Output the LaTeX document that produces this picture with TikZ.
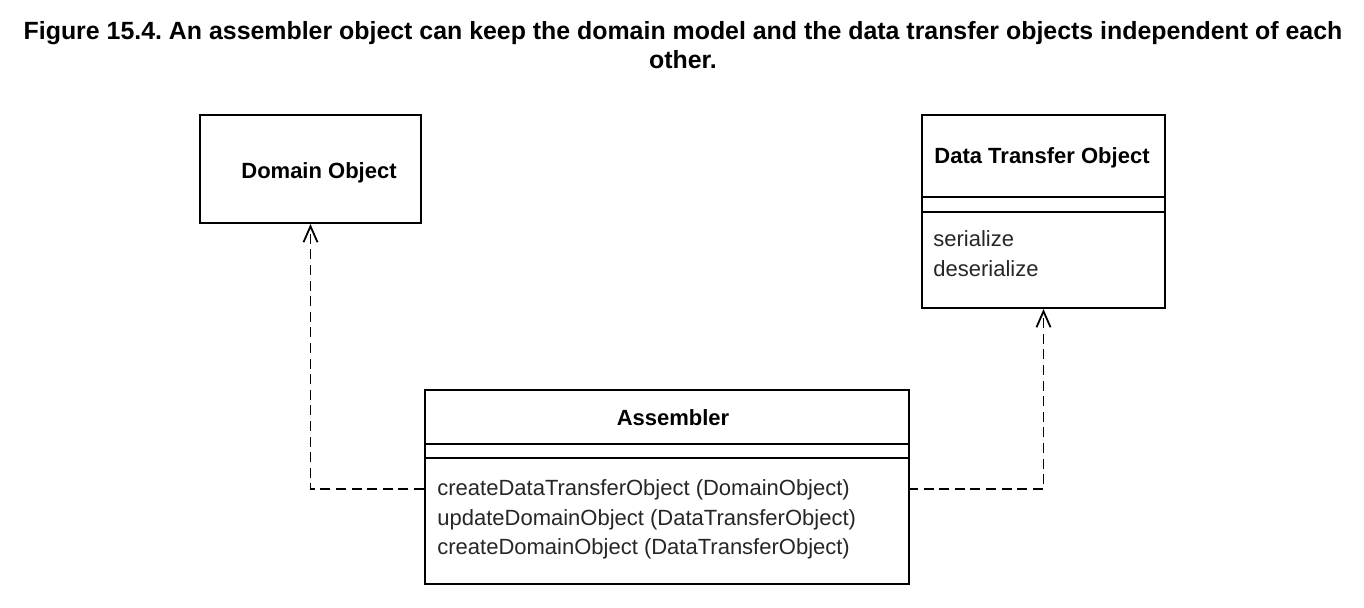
\documentclass[tikz,border=0pt]{standalone}
\usepackage{fontspec}
\setmainfont{Liberation Sans}
\usetikzlibrary{arrows.meta}
\frenchspacing
\begin{document}
\begin{tikzpicture}[x=0.5pt,y=-0.5pt,
  box/.style={draw, line width=1pt, inner sep=0pt, anchor=north west},
  figcaption/.style={font=\fontsize{12.45}{14}\selectfont\bfseries, anchor=base, inner sep=0pt},
  ttl/.style={font=\fontsize{11}{13}\selectfont\bfseries, anchor=base, inner sep=0pt},
  meth/.style={font=\fontsize{11}{13}\selectfont, anchor=base west, inner sep=0pt, text=black!85},
  sep/.style={line width=1pt},
  dep/.style={line width=0.9pt, dash pattern=on 5pt off 2.8pt, -{Straight Barb[length=8pt,width=7pt,line width=0.9pt]}}
]
\useasboundingbox (0,0) rectangle (1364,607);
% title
\node[figcaption] (cap1) at (683,39) {Figure 15.4. An assembler object can keep the domain model and the data transfer objects independent of each};
\node[figcaption] (cap2) at (683,68) {other.};
% Domain Object
\node[box, minimum width=110.5pt, minimum height=54pt] (dom) at (199,114) {};
\node[ttl] (domt) at (319,178) {Domain Object};
% Data Transfer Object
\node[box, minimum width=121.5pt, minimum height=96.5pt] (dto) at (921,114) {};
\draw[sep] (921,197) -- (1164,197);
\draw[sep] (921,212) -- (1164,212);
\node[ttl] (dtot) at (1042,163) {Data Transfer Object};
\node[meth] (s1) at (933,246) {serialize};
\node[meth] (s2) at (933,276) {deserialize};
% Assembler
\node[box, minimum width=242pt, minimum height=97pt] (asm) at (424,389) {};
\draw[sep] (424,444) -- (908,444);
\draw[sep] (424,458) -- (908,458);
\node[ttl] (asmt) at (673,425) {Assembler};
\node[meth] (m1) at (437,495) {createDataTransferObject (DomainObject)};
\node[meth] (m2) at (437,525) {updateDomainObject (DataTransferObject)};
\node[meth] (m3) at (437,554) {createDomainObject (DataTransferObject)};
% connectors
\coordinate (la) at (424,489);
\coordinate (ra) at (908,489);
\draw[dep] (la) -| (dom.south);
\draw[dep] (ra) -| (dto.south);
\end{tikzpicture}
\end{document}
